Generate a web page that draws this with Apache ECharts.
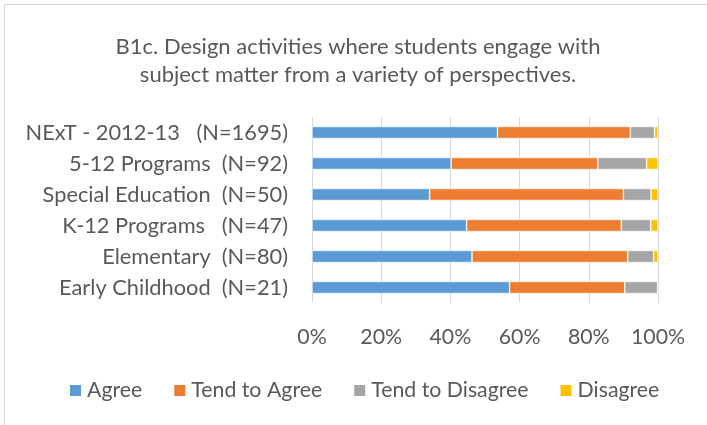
<!DOCTYPE html>
<html>
<head>
<meta charset="utf-8">
<script src="https://cdn.jsdelivr.net/npm/echarts@6/dist/echarts.min.js"></script>
<style>
html,body{margin:0;padding:0;background:#fff;overflow:hidden;}
#frame{position:absolute;left:4px;top:4px;width:720px;height:440px;border:1px solid #d9d9d9;}
#chart{position:absolute;left:0;top:0;width:707px;height:425px;}
</style>
</head>
<body>
<div id="frame"></div>
<div id="chart"></div>
<script>
const categories = [
  "NExT - 2012-13   (N=1695)",
  "5-12 Programs  (N=92)",
  "Special Education  (N=50)",
  "K-12 Programs   (N=47)",
  "Elementary  (N=80)",
  "Early Childhood  (N=21)"
];
const agree = [53.6, 40.2, 34.0, 44.7, 46.25, 57.1];
const tendAgree = [38.4, 42.4, 56.0, 44.7, 45.0, 33.3];
const tendDisagree = [7.0, 14.1, 8.0, 8.5, 7.5, 9.5];
const disagree = [1.0, 3.3, 2.0, 2.1, 1.25, 0];
const xTicks = [0, 20, 40, 60, 80, 100];
const titleText = "B1c. Design activities where students engage with\nsubject matter from a variety of perspectives.";

const FONT = "Lato";
const TXT = "#595959";
const chart = echarts.init(document.getElementById('chart'), null, {renderer:'canvas'});
const mk = (name, data, color) => ({
  name, type:'bar', stack:'total', data, barWidth:12,
  itemStyle:{color, borderColor:'#fff', borderWidth:0.6}
});
chart.setOption({
  animation:false,
  backgroundColor:'transparent',
  textStyle:{fontFamily:FONT},
  title:{
    text:titleText, left:353, textAlign:'center', top:28,
    textStyle:{fontFamily:FONT, fontSize:22, fontWeight:'normal', color:TXT, lineHeight:28}
  },
  legend:{
    top:380, left:68, padding:0, itemWidth:13, itemHeight:13, itemGap:30,
    icon:'rect',
    textStyle:{fontFamily:FONT, fontSize:21.3, color:TXT},
    data:['Agree','Tend to Agree','Tend to Disagree','Disagree']
  },
  grid:{left:312, right:49, top:117, height:186, containLabel:false},
  xAxis:{
    type:'value', min:0, max:100, interval:20,
    axisLabel:{formatter:'{value}%', fontFamily:FONT, fontSize:21.3, color:TXT, margin:24},
    splitLine:{lineStyle:{color:'#d9d9d9', width:1}},
    axisLine:{show:false}, axisTick:{show:false}
  },
  yAxis:{
    type:'category', data:categories, inverse:true,
    axisLabel:{fontFamily:FONT, fontSize:21.8, color:TXT, margin:24},
    axisLine:{show:false}, axisTick:{show:false}
  },
  series:[
    mk('Agree', agree, '#5b9bd5'),
    mk('Tend to Agree', tendAgree, '#ed7d31'),
    mk('Tend to Disagree', tendDisagree, '#a5a5a5'),
    mk('Disagree', disagree, '#ffc000')
  ]
});
</script>
</body>
</html>
